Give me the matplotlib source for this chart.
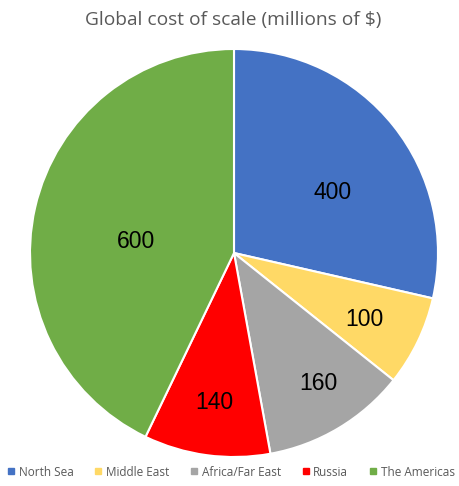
import matplotlib
matplotlib.use("Agg")
import numpy as np
import matplotlib.pyplot as plt
from matplotlib.lines import Line2D

categories = ["North Sea", "Middle East", "Africa/Far East", "Russia", "The Americas"]
values = [400, 100, 160, 140, 600]
colors = ["#4472C4", "#FFD966", "#A5A5A5", "#FF0000", "#70AD47"]
title = "Global cost of scale (millions of $)"

# label placement (best-fit style): radial distance and angle offset (deg)
label_dist = [0.567, 0.72, 0.76, 0.74, 0.484]
label_angle_offset = [-7.0, -1.3, 2.1, 0.1, 6.2]

fig = plt.figure(figsize=(4.59, 4.86), dpi=100)
ax = fig.add_axes([30/459, (486-457)/486, 408/459, 408/486])
wedges, _ = ax.pie(values, colors=colors, startangle=90, counterclock=False,
                   wedgeprops=dict(edgecolor="white", linewidth=1.5))
for w, v, d, off in zip(wedges, values, label_dist, label_angle_offset):
    mid = np.deg2rad((w.theta1 + w.theta2) / 2 + off)
    ax.text(d*np.cos(mid), d*np.sin(mid), str(v), ha="center", va="center",
            fontsize=16.5, family="Liberation Sans", color="black")
ax.set_xlim(-1, 1); ax.set_ylim(-1, 1)
ax.set_aspect("equal")
ax.axis("off")

fig.text(233/459, 1 - 20/486, title, ha="center", va="center", fontsize=13.8,
         color="#595959", family="Open Sans")

handles = [Line2D([0], [0], marker="s", linestyle="none", markersize=4.5,
                  markerfacecolor=c, markeredgecolor=c) for c in colors]
fig.legend(handles, categories, loc="center", bbox_to_anchor=(0.5 + 1/459, 1 - 472/486),
           ncol=5, frameon=False, handletextpad=0.25, columnspacing=1.7,
           handlelength=0.8, labelcolor="#595959", prop=dict(family="Open Sans", size=8.5))

fig.savefig("out.png", dpi=100)
